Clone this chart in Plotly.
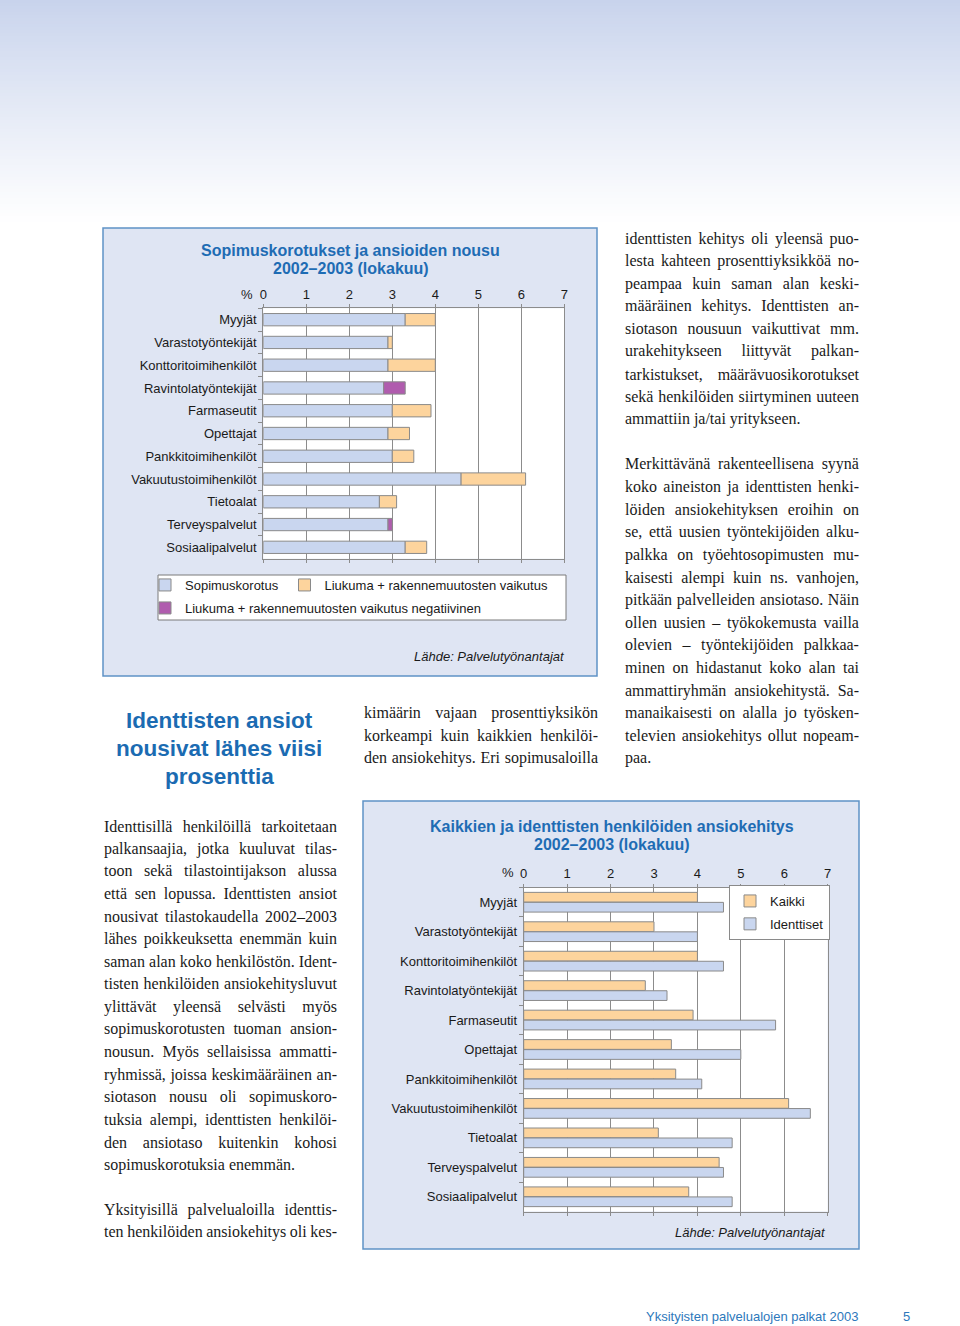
import plotly.graph_objects as go

W, H = 960, 1326

# ---------------- DATA ----------------
categories = ["Myyjät", "Varastotyöntekijät", "Konttoritoimihenkilöt", "Ravintolatyöntekijät",
              "Farmaseutit", "Opettajat", "Pankkitoimihenkilöt", "Vakuutustoimihenkilöt",
              "Tietoalat", "Terveyspalvelut", "Sosiaalipalvelut"]
# Chart 1: contractual raise and drift (+ structural change), %
sopimuskorotus = [3.3, 2.9, 2.9, 3.3, 3.0, 2.9, 3.0, 4.6, 2.7, 3.0, 3.3]
liukuma = [0.7, 0.1, 1.1, -0.5, 0.9, 0.5, 0.5, 1.5, 0.4, -0.1, 0.5]
# Chart 2: earnings development, all vs identical persons, %
kaikki = [4.0, 3.0, 4.0, 2.8, 3.9, 3.4, 3.5, 6.1, 3.1, 4.5, 3.8]
identtiset = [4.6, 4.0, 4.6, 3.3, 5.8, 5.0, 4.1, 6.6, 4.8, 4.6, 4.8]
x_tickvals = [0, 1, 2, 3, 4, 5, 6, 7]

legend_labels_1 = ["Sopimuskorotus", "Liukuma + rakennemuutosten vaikutus",
                   "Liukuma + rakennemuutosten vaikutus negatiivinen"]
legend_labels_2 = ["Kaikki", "Identtiset"]

# ---------------- STYLE ----------------
SANS = "Liberation Sans, Arial, sans-serif"
SERIF = "Liberation Serif, Times New Roman, serif"
BLUE_FILL = "#c9d6ef"
ORANGE_FILL = "#fdd49d"
PURPLE_FILL = "#b05cae"
OUTLINE = "#8a8a8a"
GRID = "#8c8c8c"
TITLE_BLUE = "#1e6cb4"
PANEL_FILL = "#dfe5f3"
PANEL_LINE = "#5f92c6"
TEXT = "#1a1a1a"


def px(x):
    return x / W


def py(y):
    return 1 - y / H


# derived drawing series (from data)
blue_len = [s + min(l, 0) for s, l in zip(sopimuskorotus, liukuma)]
pos_l = [l if l > 0 else None for l in liukuma]
neg_l = [-l if l < 0 else None for l in liukuma]
neg_base = [s + l for s, l in zip(sopimuskorotus, liukuma)]

fig = go.Figure()
line_style = dict(color=OUTLINE, width=1)

fig.add_trace(go.Bar(name=legend_labels_1[0], x=blue_len, y=categories, orientation="h",
                     width=0.54, offset=-0.27, marker=dict(color=BLUE_FILL, line=line_style),
                     xaxis="x", yaxis="y", legend="legend", hoverinfo="skip"))
fig.add_trace(go.Bar(name=legend_labels_1[1], x=pos_l, y=categories, base=sopimuskorotus,
                     orientation="h", width=0.54, offset=-0.27,
                     marker=dict(color=ORANGE_FILL, line=line_style),
                     xaxis="x", yaxis="y", legend="legend3", hoverinfo="skip"))
fig.add_trace(go.Bar(name=legend_labels_1[2], x=neg_l, y=categories, base=neg_base,
                     orientation="h", width=0.54, offset=-0.27,
                     marker=dict(color=PURPLE_FILL, line=line_style),
                     xaxis="x", yaxis="y", legend="legend4", hoverinfo="skip"))

fig.add_trace(go.Bar(name=legend_labels_2[0], x=kaikki, y=categories, orientation="h",
                     width=0.33, offset=-0.335, marker=dict(color=ORANGE_FILL, line=line_style),
                     xaxis="x2", yaxis="y2", legend="legend2", legendgroup="k", hoverinfo="skip"))
fig.add_trace(go.Bar(name=legend_labels_2[1], x=identtiset, y=categories, orientation="h",
                     width=0.33, offset=0.005, marker=dict(color=BLUE_FILL, line=line_style),
                     xaxis="x2", yaxis="y2", legend="legend2", legendgroup="i", hoverinfo="skip"))


def xaxis_cfg(domain, anchor):
    return dict(domain=domain, anchor=anchor, range=[0, 7], side="top", tickvals=x_tickvals,
                showgrid=True, gridcolor=GRID, gridwidth=1, zeroline=False,
                showline=True, linecolor=GRID, linewidth=1, mirror="ticks",
                ticks="outside", ticklen=3, tickcolor=GRID,
                tickfont=dict(family=SANS, size=13, color=TEXT), automargin=False,
                fixedrange=True)


def yaxis_cfg(domain, anchor):
    return dict(domain=domain, anchor=anchor, type="category", categoryorder="array",
                categoryarray=categories, autorange="reversed",
                showgrid=False, zeroline=False, showline=True, linecolor=GRID, linewidth=1,
                mirror=True, ticks="outside", tickson="boundaries", ticklen=4, tickcolor=GRID,
                ticklabelstandoff=3,
                tickfont=dict(family=SANS, size=13, color=TEXT), automargin=False,
                fixedrange=True)


shapes = []
# top gradient
top_c = (200, 211, 236)
N = 75
for i in range(N):
    t = i / (N - 1)
    f = t ** 0.9
    c = tuple(int(round(top_c[k] + (255 - top_c[k]) * f)) for k in range(3))
    shapes.append(dict(type="rect", xref="paper", yref="paper", x0=0, x1=1,
                       y0=py(i * 3 + 3.5), y1=py(i * 3), fillcolor="rgb(%d,%d,%d)" % c,
                       line=dict(width=0), layer="below"))
# panels
for (x0, y0, x1, y1) in [(103, 228, 597, 676), (363, 801, 859, 1249)]:
    shapes.append(dict(type="rect", xref="paper", yref="paper", x0=px(x0), x1=px(x1),
                       y0=py(y1), y1=py(y0), fillcolor=PANEL_FILL,
                       line=dict(color=PANEL_LINE, width=1.5), layer="below"))
# legend box chart 1
shapes.append(dict(type="rect", xref="paper", yref="paper", x0=px(158), x1=px(566),
                   y0=py(620), y1=py(575), fillcolor="white",
                   line=dict(color="#7a7a7a", width=1), layer="below"))
# white plot areas
for xr, yr in [("x domain", "y domain"), ("x2 domain", "y2 domain")]:
    shapes.append(dict(type="rect", xref=xr, yref=yr, x0=0, x1=1, y0=0, y1=1,
                       fillcolor="white", line=dict(width=0), layer="below"))

annotations = []


def ann(text, x, y, size, color=TEXT, family=SANS, xanchor="left"):
    annotations.append(dict(text=text, x=px(x), y=py(y), xref="paper", yref="paper",
                            xanchor=xanchor, yanchor="middle", showarrow=False,
                            borderpad=0, font=dict(family=family, size=size, color=color)))


# chart titles
ann("<b>Sopimuskorotukset ja ansioiden nousu</b>", 350.5, 250, 16, TITLE_BLUE, xanchor="center")
ann("<b>2002–2003 (lokakuu)</b>", 350.5, 269, 16, TITLE_BLUE, xanchor="center")
ann("<b>Kaikkien ja identtisten henkilöiden ansiokehitys</b>", 611.7, 826, 16, TITLE_BLUE,
    xanchor="center")
ann("<b>2002–2003 (lokakuu)</b>", 611.7, 845, 16, TITLE_BLUE, xanchor="center")
# % labels
ann("%", 254, 294.5, 13, xanchor="right")
ann("%", 515, 872, 13, xanchor="right")
# sources
ann("<i>Lähde: Palvelutyönantajat</i>", 566, 656, 13, xanchor="right")
ann("<i>Lähde: Palvelutyönantajat</i>", 827, 1232, 13, xanchor="right")
# heading
for t, yy in [("Identtisten ansiot", 720), ("nousivat lähes viisi", 748), ("prosenttia", 776)]:
    ann("<b>" + t + "</b>", 219, yy, 22.5, "#1b6bb2", xanchor="center")
# footer
ann("Yksityisten palvelualojen palkat 2003", 645, 1316, 13, "#2d78bb")
ann("5", 906, 1316, 13, "#2d78bb", xanchor="center")

# body text with justification
TW = {' ': 250, ',': 250, '.': 250, '-': 333, '–': 500, '/': 278, '(': 333, ')': 333,
      'a': 444, 'b': 500, 'c': 444, 'd': 500, 'e': 444, 'f': 333, 'g': 500, 'h': 500,
      'i': 278, 'j': 278, 'k': 500, 'l': 278, 'm': 778, 'n': 500, 'o': 500, 'p': 500,
      'q': 500, 'r': 333, 's': 389, 't': 278, 'u': 500, 'v': 500, 'w': 722, 'x': 500,
      'y': 500, 'z': 444, 'ä': 444, 'ö': 500, 'å': 444,
      'A': 722, 'B': 667, 'C': 667, 'D': 722, 'E': 611, 'F': 556, 'G': 722, 'H': 722,
      'I': 333, 'J': 389, 'K': 722, 'L': 611, 'M': 889, 'N': 722, 'O': 722, 'P': 556,
      'R': 667, 'S': 556, 'T': 611, 'U': 722, 'V': 722, 'W': 944, 'Y': 722}
BODY = 16


def nat_w(s):
    return sum(TW.get(ch, 500) for ch in s) * BODY / 1000.0


def body(lines, x, y0, width, step=22.6):
    for i, (txt, just) in enumerate(lines):
        y = y0 + i * step
        if just and txt.count(" ") > 0:
            ws = (width - nat_w(txt)) / txt.count(" ")
            t = '<span style="word-spacing:%.2fpx">%s</span>' % (ws, txt)
        else:
            t = txt
        ann(t, x, y, BODY, "#1a1a1a", SERIF)


right1 = ["identtisten kehitys oli yleensä puo-",
          "lesta kahteen prosenttiyksikköä no-",
          "peampaa kuin saman alan keski-",
          "määräinen kehitys. Identtisten an-",
          "siotason nousuun vaikuttivat mm.",
          "urakehitykseen liittyvät palkan-",
          "tarkistukset, määrävuosikorotukset",
          "sekä henkilöiden siirtyminen uuteen",
          "ammattiin ja/tai yritykseen."]
right2 = ["Merkittävänä rakenteellisena syynä",
          "koko aineiston ja identtisten henki-",
          "löiden ansiokehityksen eroihin on",
          "se, että uusien työntekijöiden alku-",
          "palkka on työehtosopimusten mu-",
          "kaisesti alempi kuin ns. vanhojen,",
          "pitkään palvelleiden ansiotaso. Näin",
          "ollen uusien – työkokemusta vailla",
          "olevien – työntekijöiden palkkaa-",
          "minen on hidastanut koko alan tai",
          "ammattiryhmän ansiokehitystä. Sa-",
          "manaikaisesti on alalla jo työsken-",
          "televien ansiokehitys ollut nopeam-",
          "paa."]
middle = ["kimäärin vajaan prosenttiyksikön",
          "korkeampi kuin kaikkien henkilöi-",
          "den ansiokehitys. Eri sopimusaloilla"]
left1 = ["Identtisillä henkilöillä tarkoitetaan",
         "palkansaajia, jotka kuuluvat tilas-",
         "toon sekä tilastointijakson alussa",
         "että sen lopussa. Identtisten ansiot",
         "nousivat tilastokaudella 2002–2003",
         "lähes poikkeuksetta enemmän kuin",
         "saman alan koko henkilöstön. Ident-",
         "tisten henkilöiden ansiokehitysluvut",
         "ylittävät yleensä selvästi myös",
         "sopimuskorotusten tuoman ansion-",
         "nousun. Myös sellaisissa ammatti-",
         "ryhmissä, joissa keskimääräinen an-",
         "siotason nousu oli sopimuskoro-",
         "tuksia alempi, identtisten henkilöi-",
         "den ansiotaso kuitenkin kohosi",
         "sopimuskorotuksia enemmän."]
left2 = ["Yksityisillä palvelualoilla identtis-",
         "ten henkilöiden ansiokehitys oli kes-"]


def with_just(lines, last_free=True):
    out = []
    for i, l in enumerate(lines):
        out.append((l, not (last_free and i == len(lines) - 1)))
    return out


body(with_just(right1), 624, 238.5, 234)
body(with_just(right2), 624, 464.5, 234)
body(with_just(middle, last_free=False), 363, 713, 234)
body(with_just(left1), 103, 826, 233)
body(with_just(left2, last_free=False), 103, 1209.5, 233)

leg_font = dict(family=SANS, size=13, color=TEXT)
fig.update_layout(
    width=W, height=H, margin=dict(l=0, r=0, t=0, b=0),
    paper_bgcolor="white", plot_bgcolor="white", barmode="overlay",
    showlegend=True,
    xaxis=xaxis_cfg([px(263.3), px(564.3)], "y"),
    yaxis=yaxis_cfg([py(558.7), py(308.3)], "x"),
    xaxis2=xaxis_cfg([px(523.7), px(827.7)], "y2"),
    yaxis2=yaxis_cfg([py(1211.5), py(887.5)], "x2"),
    legend=dict(x=px(145), y=py(585), xanchor="left", yanchor="middle",
                bgcolor="rgba(0,0,0,0)", font=leg_font, orientation="h"),
    legend3=dict(x=px(284.5), y=py(585), xanchor="left", yanchor="middle",
                 bgcolor="rgba(0,0,0,0)", font=leg_font, orientation="h"),
    legend4=dict(x=px(145), y=py(608), xanchor="left", yanchor="middle",
                 bgcolor="rgba(0,0,0,0)", font=leg_font, orientation="h"),
    legend2=dict(x=px(729), y=py(885), xanchor="left", yanchor="top",
                 bgcolor="white", bordercolor="#8a8a8a", borderwidth=1,
                 font=leg_font, tracegroupgap=3, traceorder="grouped"),
    shapes=shapes, annotations=annotations,
)

fig.write_html("out.html",
               config={"displayModeBar": False, "staticPlot": True},
               post_script="document.body.style.margin='0px';"
                           "document.body.style.padding='0px';"
                           "document.documentElement.style.overflow='hidden';")
